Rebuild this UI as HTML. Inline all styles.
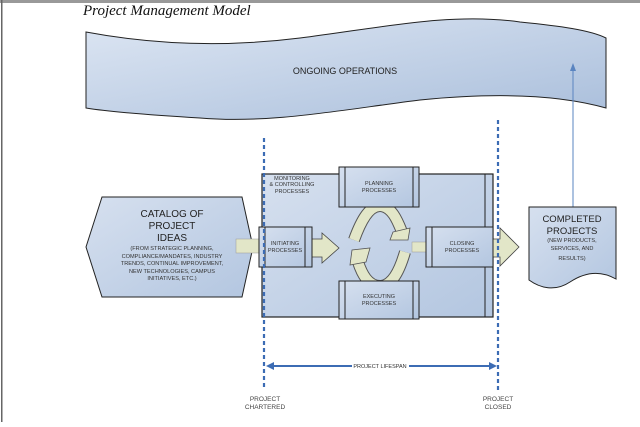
<!DOCTYPE html>
<html><head><style>
body{margin:0;background:#fff;width:640px;height:422px;overflow:hidden;font-family:"Liberation Sans",sans-serif}
</style></head><body>
<svg width="640" height="422" viewBox="0 0 640 422" xmlns="http://www.w3.org/2000/svg" font-family="Liberation Sans, sans-serif">
<defs>
<linearGradient id="g" x1="0" y1="0" x2="1" y2="1"><stop offset="0" stop-color="#dde6f3"/><stop offset="1" stop-color="#a9bedb"/></linearGradient>
<linearGradient id="g2" x1="0" y1="0" x2="1" y2="1"><stop offset="0" stop-color="#d6e0ef"/><stop offset="1" stop-color="#b3c6e0"/></linearGradient>
</defs>
<rect x="0" y="0" width="640" height="3" fill="#999"/>
<rect x="1" y="0" width="1.5" height="422" fill="#666"/>
<text x="83" y="15" font-family="Liberation Serif, serif" font-style="italic" font-size="15" fill="#111">Project Management Model</text>
<path d="M86,32 C150,44 220,48 300,38 C380,28 450,12 520,22 C560,26 590,30 606,38 L606,108 C560,95 500,92 420,100 C340,110 270,124 200,118 C150,115 110,112 86,108 Z" fill="url(#g)" stroke="#222" stroke-width="1"/>
<text x="345" y="74" font-size="9" text-anchor="middle" fill="#222">ONGOING OPERATIONS</text>
<line x1="573" y1="207" x2="573" y2="68" stroke="#5a84c0" stroke-width="1"/>
<polygon points="573,63 570,71 576,71" fill="#5a84c0"/>
<rect x="262" y="174" width="231" height="143" fill="url(#g2)" stroke="#222" stroke-width="1.2"/>
<line x1="485" y1="174" x2="485" y2="317" stroke="#222" stroke-width="1"/>
<text font-size="5.5" fill="#333" text-anchor="middle"><tspan x="292" y="180">MONITORING</tspan><tspan x="292" y="186">&amp; CONTROLLING</tspan><tspan x="292" y="193">PROCESSES</tspan></text>
<!-- cycle arrows -->
<path d="M354,240 C362,218 370,206 380,206 C392,206 398,222 402,232" fill="none" stroke="#555" stroke-width="12"/>
<path d="M354,240 C362,218 370,206 380,206 C392,206 398,222 402,232" fill="none" stroke="#e2e6c8" stroke-width="10"/>
<polygon points="393,232 410,228 408,240 390,240" fill="#e2e6c8" stroke="#555" stroke-width="0.8"/>
<path d="M405,252 C398,276 390,286 380,286 C368,286 362,274 358,262" fill="none" stroke="#555" stroke-width="12"/>
<path d="M405,252 C398,276 390,286 380,286 C368,286 362,274 358,262" fill="none" stroke="#e2e6c8" stroke-width="10"/>
<polygon points="350,265 352,250 370,248 366,262" fill="#e2e6c8" stroke="#555" stroke-width="0.8"/>
<rect x="339" y="167" width="80" height="40" fill="url(#g2)" stroke="#222"/>
<line x1="345" y1="167" x2="345" y2="207" stroke="#222"/><line x1="413" y1="167" x2="413" y2="207" stroke="#222"/>
<text font-size="5.5" fill="#333" text-anchor="middle"><tspan x="379" y="185">PLANNING</tspan><tspan x="379" y="192">PROCESSES</tspan></text>
<rect x="339" y="281" width="80" height="38" fill="url(#g2)" stroke="#222"/>
<line x1="345" y1="281" x2="345" y2="319" stroke="#222"/><line x1="413" y1="281" x2="413" y2="319" stroke="#222"/>
<text font-size="5.5" fill="#333" text-anchor="middle"><tspan x="379" y="298">EXECUTING</tspan><tspan x="379" y="305">PROCESSES</tspan></text>
<polygon points="86,247 102,197 242,197 253,247 242,297 102,297" fill="url(#g2)" stroke="#222" stroke-width="1"/>
<text text-anchor="middle" fill="#222"><tspan x="172" y="217" font-size="10">CATALOG OF</tspan><tspan x="172" y="229" font-size="10">PROJECT</tspan><tspan x="172" y="241" font-size="10">IDEAS</tspan></text>
<text text-anchor="middle" fill="#333" font-size="5.6"><tspan x="172" y="250">(FROM STRATEGIC PLANNING,</tspan><tspan x="172" y="258">COMPLIANCE/MANDATES, INDUSTRY</tspan><tspan x="172" y="265">TRENDS, CONTINUAL IMPROVEMENT,</tspan><tspan x="172" y="273">NEW TECHNOLOGIES, CAMPUS</tspan><tspan x="172" y="280">INITIATIVES, ETC.)</tspan></text>
<rect x="236" y="239" width="24" height="14" fill="#e2e6c8" stroke="#999" stroke-width="0.5"/>
<polygon points="312,239 322,239 322,233 339,248 322,263 322,257 312,257" fill="#e2e6c8" stroke="#444" stroke-width="0.8"/>
<rect x="259" y="227" width="53" height="40" fill="url(#g2)" stroke="#222"/>
<line x1="265" y1="227" x2="265" y2="267" stroke="#222"/><line x1="305" y1="227" x2="305" y2="267" stroke="#222"/>
<text font-size="5.5" fill="#333" text-anchor="middle"><tspan x="285" y="245">INITIATING</tspan><tspan x="285" y="252">PROCESSES</tspan></text>
<rect x="412" y="242" width="14" height="10" fill="#e2e6c8" stroke="#999" stroke-width="0.5"/>
<polygon points="493,239 500,239 500,228 519,247 500,266 500,257 493,257" fill="#e2e6c8" stroke="#444" stroke-width="0.8"/>
<rect x="426" y="227" width="67" height="40" fill="url(#g2)" stroke="#222"/>
<line x1="432" y1="227" x2="432" y2="267" stroke="#222"/>
<text font-size="5.5" fill="#333" text-anchor="middle"><tspan x="462" y="245">CLOSING</tspan><tspan x="462" y="252">PROCESSES</tspan></text>
<path d="M529,207 L616,207 L616,279 C600,270 585,272 570,282 C555,292 540,288 529,280 Z" fill="url(#g2)" stroke="#222"/>
<text text-anchor="middle" fill="#222"><tspan x="572" y="222" font-size="9.5">COMPLETED</tspan><tspan x="572" y="234" font-size="9.5">PROJECTS</tspan></text>
<text text-anchor="middle" fill="#333" font-size="5.6"><tspan x="572" y="242">(NEW PRODUCTS,</tspan><tspan x="572" y="250">SERVICES, AND</tspan><tspan x="572" y="260">RESULTS)</tspan></text>
<line x1="264" y1="138" x2="264" y2="390" stroke="#3c6cb4" stroke-width="2.2" stroke-dasharray="4,3"/>
<line x1="498" y1="120" x2="498" y2="390" stroke="#3c6cb4" stroke-width="2.2" stroke-dasharray="4,3"/>
<line x1="270" y1="366" x2="492" y2="366" stroke="#3c6cb4" stroke-width="2"/>
<polygon points="266,366 274,362 274,370" fill="#3c6cb4"/>
<polygon points="497,366 489,362 489,370" fill="#3c6cb4"/>
<rect x="352" y="362" width="57" height="7" fill="#fff"/>
<text x="380" y="368" font-size="5.5" text-anchor="middle" fill="#333">PROJECT LIFESPAN</text>
<text text-anchor="middle" fill="#444" font-size="6.5"><tspan x="265" y="401">PROJECT</tspan><tspan x="265" y="409">CHARTERED</tspan><tspan x="498" y="401">PROJECT</tspan><tspan x="498" y="409">CLOSED</tspan></text>
</svg>
</body></html>
